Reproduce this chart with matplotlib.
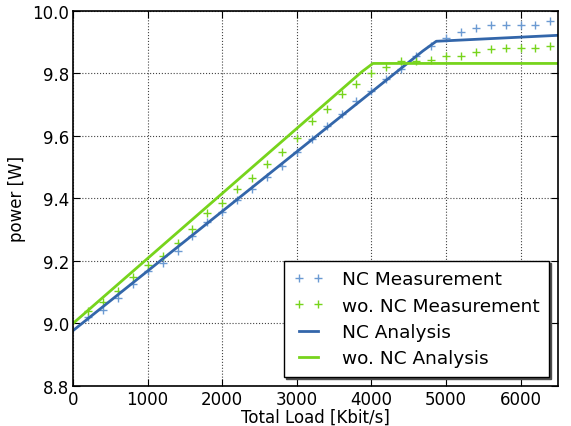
import matplotlib
matplotlib.use("Agg")
import matplotlib.pyplot as plt

# measurement points (every 200 Kbit/s)
load = [200, 400, 600, 800, 1000, 1200, 1400, 1600, 1800, 2000, 2200, 2400,
        2600, 2800, 3000, 3200, 3400, 3600, 3800, 4000, 4200, 4400, 4600,
        4800, 5000, 5200, 5400, 5600, 5800, 6000, 6200, 6400]
nc_meas = [9.022, 9.044, 9.082, 9.126, 9.169, 9.193, 9.231, 9.281, 9.324,
           9.358, 9.396, 9.429, 9.468, 9.505, 9.548, 9.590, 9.633, 9.670,
           9.713, 9.745, 9.782, 9.814, 9.855, 9.889, 9.913, 9.932, 9.946,
           9.955, 9.954, 9.954, 9.956, 9.967]
wonc_meas = [9.041, 9.068, 9.103, 9.148, 9.187, 9.215, 9.258, 9.302, 9.353,
             9.385, 9.429, 9.466, 9.510, 9.548, 9.593, 9.648, 9.686, 9.734,
             9.766, 9.800, 9.822, 9.841, 9.841, 9.844, 9.855, 9.855, 9.870,
             9.878, 9.880, 9.880, 9.880, 9.887]

# analysis curves (vertices)
nc_x = [0, 4690, 4870, 6500]
nc_y = [8.977, 9.872, 9.903, 9.922]
wonc_x = [0, 3870, 4020, 6500]
wonc_y = [9.000, 9.805, 9.832, 9.832]

blue = "#3366aa"
blue_light = "#6b9ad2"
green = "#77d41c"

fig = plt.figure(figsize=(5.71, 4.27), dpi=100)
ax = fig.add_axes([0.128, 0.094, 0.849, 0.878])

ax.plot(load, nc_meas, "+", color=blue_light, ms=6, mew=1.0, label="NC Measurement")
ax.plot(load, wonc_meas, "+", color=green, ms=6, mew=1.0, label="wo. NC Measurement")
ax.plot(nc_x, nc_y, "-", color=blue, lw=2, label="NC Analysis")
ax.plot(wonc_x, wonc_y, "-", color=green, lw=2, label="wo. NC Analysis")

ax.set_xlim(0, 6500)
ax.set_ylim(8.8, 10.0)
ax.set_xticks([0, 1000, 2000, 3000, 4000, 5000, 6000])
ax.set_yticks([8.8, 9.0, 9.2, 9.4, 9.6, 9.8, 10.0])
ax.tick_params(direction="in", top=True, right=True, labelsize=12, length=5, pad=3)
ax.grid(True, color="#444444", linestyle=":", lw=0.8)
for s in ax.spines.values():
    s.set_linewidth(1.2)
ax.set_xlabel("Total Load [Kbit/s]", fontsize=12, labelpad=0)
ax.set_ylabel("power [W]", fontsize=12, labelpad=4)

leg = ax.legend(loc="lower right", numpoints=2, fontsize=13.3,
                shadow={"color": "0.3", "alpha": 1, "ox": 1.5, "oy": -1.5},
                fancybox=False, framealpha=1, edgecolor="black",
                handlelength=1.6, handletextpad=1.0, labelspacing=0.45,
                borderpad=0.5, markerscale=0.85)
leg.get_frame().set_linewidth(1)

fig.savefig("out.png", dpi=100)
